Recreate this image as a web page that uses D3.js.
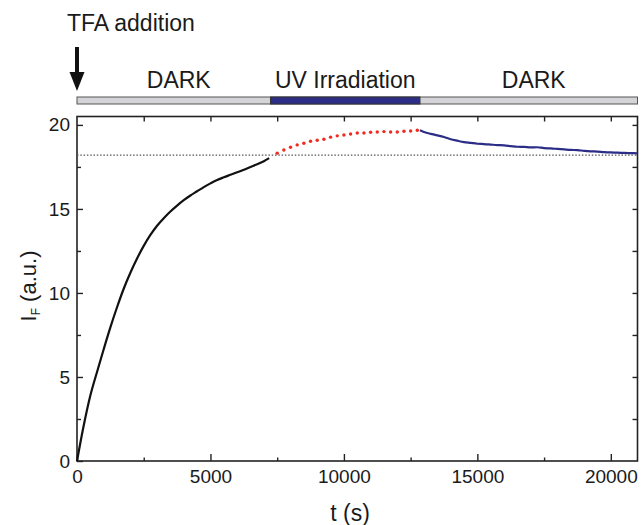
<!DOCTYPE html>
<html>
<head>
<meta charset="utf-8">
<script src="https://cdn.jsdelivr.net/npm/d3@7"></script>
<style>
  body { margin: 0; background: #fff; }
  svg text { font-family: "Liberation Sans", Arial, sans-serif; fill: #1a1a1a; }
</style>
</head>
<body>
<div id="chart"></div>
<script>
// Fluorescence rise after TFA addition (dark)
const riseData = [
    { t: 0, v: 0 }, { t: 250, v: 2.1 }, { t: 500, v: 3.9 }, { t: 750, v: 5.3 },
    { t: 1000, v: 6.65 }, { t: 1250, v: 7.95 }, { t: 1500, v: 9.15 }, { t: 1750, v: 10.25 },
    { t: 2000, v: 11.2 }, { t: 2250, v: 12.05 }, { t: 2500, v: 12.8 }, { t: 2750, v: 13.45 },
    { t: 3000, v: 14.0 }, { t: 3250, v: 14.45 }, { t: 3500, v: 14.85 }, { t: 3750, v: 15.2 },
    { t: 4000, v: 15.52 }, { t: 4250, v: 15.8 }, { t: 4500, v: 16.05 }, { t: 4750, v: 16.3 },
    { t: 5000, v: 16.52 }, { t: 5250, v: 16.72 }, { t: 5500, v: 16.88 }, { t: 5750, v: 17.03 },
    { t: 6000, v: 17.18 }, { t: 6250, v: 17.33 }, { t: 6500, v: 17.5 }, { t: 6750, v: 17.66 },
    { t: 7000, v: 17.84 }, { t: 7200, v: 18.02 }
];

// UV irradiation points
const uvData = [
    { t: 7500, v: 18.32 }, { t: 7750, v: 18.51 }, { t: 8000, v: 18.67 }, { t: 8250, v: 18.81 },
    { t: 8500, v: 18.91 }, { t: 8750, v: 19.03 }, { t: 9000, v: 19.09 }, { t: 9250, v: 19.15 },
    { t: 9500, v: 19.27 }, { t: 9750, v: 19.35 }, { t: 10000, v: 19.4 }, { t: 10250, v: 19.46 },
    { t: 10500, v: 19.52 }, { t: 10750, v: 19.52 }, { t: 11000, v: 19.56 }, { t: 11250, v: 19.58 },
    { t: 11500, v: 19.6 }, { t: 11750, v: 19.58 }, { t: 12000, v: 19.58 }, { t: 12250, v: 19.62 },
    { t: 12500, v: 19.64 }, { t: 12750, v: 19.68 }
];

// Relaxation in the dark after UV
const decayData = [
    { t: 12850, v: 19.68 }, { t: 13000, v: 19.58 }, { t: 13250, v: 19.47 }, { t: 13500, v: 19.38 },
    { t: 13750, v: 19.28 }, { t: 14000, v: 19.15 }, { t: 14250, v: 19.06 }, { t: 14500, v: 18.98 },
    { t: 14750, v: 18.93 }, { t: 15000, v: 18.88 }, { t: 15250, v: 18.86 }, { t: 15500, v: 18.83 },
    { t: 15750, v: 18.8 }, { t: 16000, v: 18.78 }, { t: 16250, v: 18.74 }, { t: 16500, v: 18.7 },
    { t: 16750, v: 18.69 }, { t: 17000, v: 18.66 }, { t: 17250, v: 18.67 }, { t: 17500, v: 18.62 },
    { t: 17750, v: 18.6 }, { t: 18000, v: 18.57 }, { t: 18250, v: 18.54 }, { t: 18500, v: 18.51 },
    { t: 18750, v: 18.5 }, { t: 19000, v: 18.46 }, { t: 19250, v: 18.43 }, { t: 19500, v: 18.41 },
    { t: 19750, v: 18.38 }, { t: 20000, v: 18.36 }, { t: 20250, v: 18.35 }, { t: 20500, v: 18.33 },
    { t: 20750, v: 18.32 }, { t: 21000, v: 18.31 }
];

// Phases shown in the bar above the plot
const phases = [
    { label: "DARK", start: 0, end: 7250, uv: false },
    { label: "UV Irradiation", start: 7250, end: 12850, uv: true },
    { label: "DARK", start: 12850, end: 21000, uv: false }
];

const xTicks = [0, 5000, 10000, 15000, 20000];
const yTicks = [0, 5, 10, 15, 20];
const baselineValue = 18.2;

const W = 641, H = 525;
const plot = { left: 77, right: 637.5, top: 116.5, bottom: 461 };
const navy = "#2b2d86";

const svg = d3.select("#chart").append("svg")
    .attr("width", W).attr("height", H);

const x = d3.scaleLinear().domain([0, 21000]).range([plot.left, plot.right]);
const y = d3.scaleLinear().domain([0, 20.5]).range([plot.bottom, plot.top]);

// phase bar
const barY = 97, barH = 7;
svg.append("rect")
    .attr("x", x(0)).attr("y", barY)
    .attr("width", x(21000) - x(0)).attr("height", barH)
    .attr("fill", "#d4d4d8").attr("stroke", "#555").attr("stroke-width", 1);
svg.selectAll(".phase")
    .data(phases.filter(d => d.uv))
    .enter().append("rect")
    .attr("x", d => x(d.start)).attr("y", barY)
    .attr("width", d => x(d.end) - x(d.start)).attr("height", barH)
    .attr("fill", navy).attr("stroke", "#333").attr("stroke-width", 1);
svg.selectAll(".phase-label")
    .data(phases)
    .enter().append("text")
    .attr("x", d => (x(d.start) + x(d.end)) / 2 + (d.uv ? 0 : 5))
    .attr("y", 88)
    .attr("text-anchor", "middle")
    .attr("font-size", 23)
    .text(d => d.label);

// TFA addition arrow
svg.append("text")
    .attr("x", 67).attr("y", 31)
    .attr("font-size", 23)
    .text("TFA addition");
svg.append("line")
    .attr("x1", x(0)).attr("x2", x(0))
    .attr("y1", 47).attr("y2", 76)
    .attr("stroke", "#111").attr("stroke-width", 4);
svg.append("path")
    .attr("d", `M${x(0) - 7.5},72 L${x(0) + 7.5},72 L${x(0)},91 Z`)
    .attr("fill", "#111");

// axes (ticks point inward)
const g = svg.append("g");
g.append("g")
    .attr("transform", `translate(0,${plot.bottom})`)
    .call(d3.axisBottom(x).tickValues(d3.range(2500, 21000, 5000)).tickSize(-3.5).tickFormat(""));
g.append("g")
    .attr("transform", `translate(0,${plot.bottom})`)
    .call(d3.axisBottom(x).tickValues(xTicks).tickSize(-7).tickPadding(9).tickFormat(d3.format("d")))
    .attr("font-size", 19);
g.append("g")
    .attr("transform", `translate(0,${plot.top})`)
    .call(d3.axisTop(x).tickValues(d3.range(2500, 21000, 2500)).tickSize(-5).tickFormat(""));
g.append("g")
    .attr("transform", `translate(${plot.left},0)`)
    .call(d3.axisLeft(y).tickValues([2.5, 7.5, 12.5, 17.5]).tickSize(-4).tickFormat(""));
g.append("g")
    .attr("transform", `translate(${plot.left},0)`)
    .call(d3.axisLeft(y).tickValues(yTicks).tickSize(-6).tickPadding(7).tickFormat(d3.format("d")))
    .attr("font-size", 19);
g.append("g")
    .attr("transform", `translate(${plot.right},0)`)
    .call(d3.axisRight(y).tickValues([2.5, 5, 7.5, 10, 12.5, 15, 17.5, 20]).tickSize(-5).tickFormat(""));
g.selectAll(".domain").remove();
g.selectAll(".tick line").attr("stroke", "#222").attr("stroke-width", 1.4);
g.selectAll(".tick text").attr("fill", "#1a1a1a")
    .attr("font-family", "'Liberation Sans', Arial, sans-serif");

svg.append("rect")
    .attr("x", plot.left).attr("y", plot.top)
    .attr("width", plot.right - plot.left).attr("height", plot.bottom - plot.top)
    .attr("fill", "none").attr("stroke", "#222").attr("stroke-width", 1.6);

// dotted reference level
svg.append("line")
    .attr("x1", plot.left).attr("x2", plot.right)
    .attr("y1", y(baselineValue)).attr("y2", y(baselineValue))
    .attr("stroke", "#555").attr("stroke-width", 1.1)
    .attr("stroke-dasharray", "1.5,1.8");

const line = d3.line().x(d => x(d.t)).y(d => y(d.v)).curve(d3.curveCatmullRom);

svg.append("path").datum(riseData)
    .attr("d", line).attr("fill", "none")
    .attr("stroke", "#111").attr("stroke-width", 2.2);

svg.append("path").datum(decayData)
    .attr("d", line).attr("fill", "none")
    .attr("stroke", navy).attr("stroke-width", 2.2);

svg.selectAll(".uv-dot")
    .data(uvData)
    .enter().append("circle")
    .attr("cx", d => x(d.t)).attr("cy", d => y(d.v))
    .attr("r", 1.7).attr("fill", "#f02a1e");

// axis titles
svg.append("text")
    .attr("x", 350).attr("y", 521)
    .attr("text-anchor", "middle")
    .attr("font-size", 23)
    .text("t (s)");

const yTitle = svg.append("text")
    .attr("transform", "translate(36,286) rotate(-90)")
    .attr("text-anchor", "middle")
    .attr("font-size", 22);
yTitle.append("tspan").text("I");
yTitle.append("tspan").attr("font-size", 12).attr("dy", 4).text("F");
yTitle.append("tspan").attr("dy", -4).text(" (a.u.)");
</script>
</body>
</html>
